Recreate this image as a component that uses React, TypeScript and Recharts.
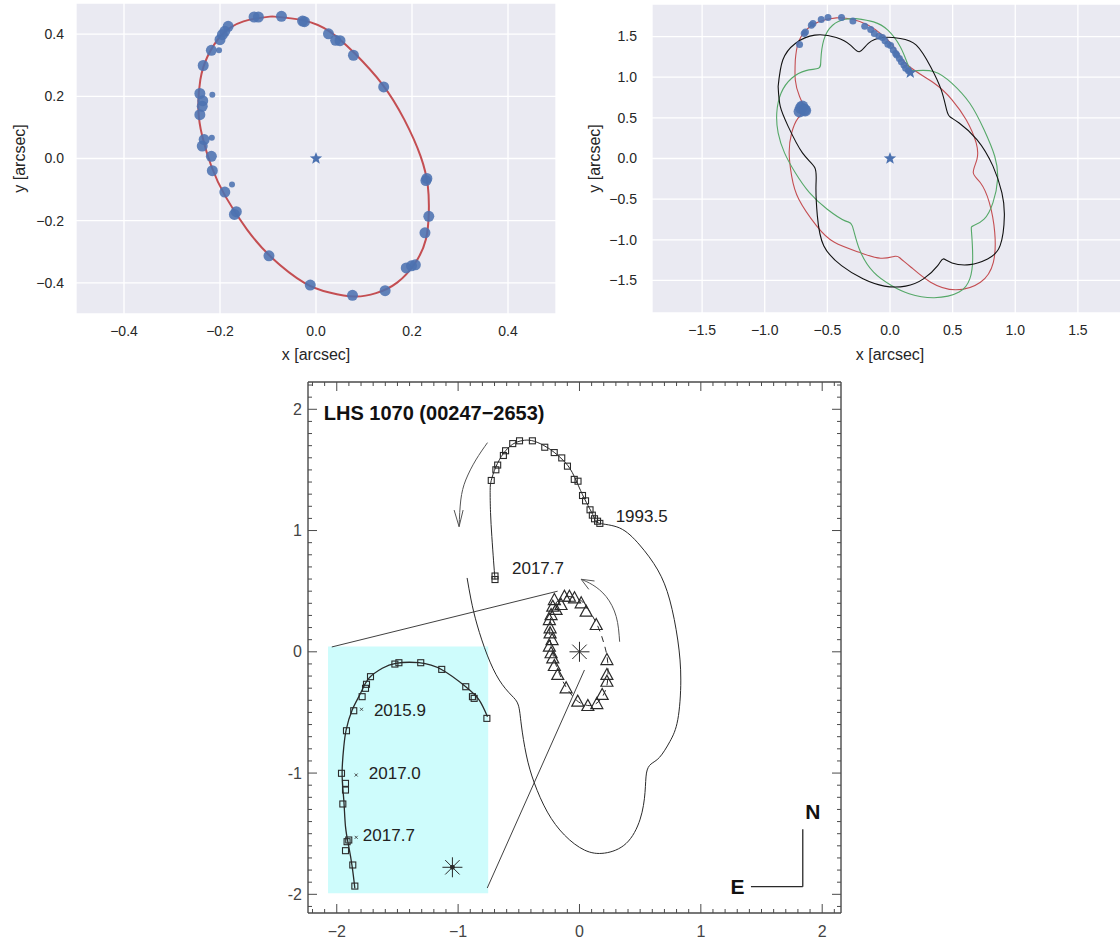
import {
  ComposedChart,
  Line,
  Scatter,
  XAxis,
  YAxis,
  CartesianGrid,
  ReferenceArea,
  ReferenceLine,
} from 'recharts'

const FONT = '"Liberation Sans", Arial, Helvetica, sans-serif'
const SNS_TEXT = '#262626'
const SNS_BG = '#EAEAF2'
const SNS_BLUE = '#4C72B0'
const SNS_RED = '#C44E52'
const SNS_GREEN = '#55A868'
const INK = '#2a2a2a'
const FRAME = '#4a4a4a'

// ---------- top-left: inner pair, relative orbit ----------
const innerTicks = [-0.4, -0.2, 0, 0.2, 0.4]

const innerOrbit = [
  { x: -0.092, y: 0.457 }, { x: -0.025, y: 0.444 }, { x: 0.028, y: 0.409 },
  { x: 0.08, y: 0.339 }, { x: 0.139, y: 0.237 }, { x: 0.184, y: 0.125 },
  { x: 0.218, y: 0.007 }, { x: 0.233, y: -0.089 }, { x: 0.235, y: -0.174 },
  { x: 0.229, y: -0.26 }, { x: 0.207, y: -0.335 }, { x: 0.169, y: -0.399 },
  { x: 0.125, y: -0.433 }, { x: 0.08, y: -0.444 }, { x: 0.028, y: -0.431 },
  { x: -0.025, y: -0.399 }, { x: -0.092, y: -0.319 }, { x: -0.144, y: -0.228 },
  { x: -0.189, y: -0.121 }, { x: -0.218, y: -0.025 }, { x: -0.237, y: 0.072 },
  { x: -0.245, y: 0.157 }, { x: -0.241, y: 0.253 }, { x: -0.226, y: 0.328 },
  { x: -0.196, y: 0.398 }, { x: -0.151, y: 0.441 }, { x: -0.092, y: 0.457 },
]

const innerObsBig = [
  { x: -0.129, y: 0.455 }, { x: -0.12, y: 0.455 }, { x: -0.072, y: 0.457 },
  { x: -0.028, y: 0.442 }, { x: -0.024, y: 0.44 }, { x: 0.026, y: 0.401 },
  { x: 0.041, y: 0.38 }, { x: 0.05, y: 0.379 }, { x: 0.078, y: 0.332 },
  { x: 0.141, y: 0.23 }, { x: 0.229, y: -0.071 }, { x: 0.231, y: -0.064 },
  { x: 0.235, y: -0.186 }, { x: 0.227, y: -0.239 }, { x: 0.188, y: -0.352 },
  { x: 0.199, y: -0.345 }, { x: 0.207, y: -0.342 }, { x: 0.144, y: -0.425 },
  { x: 0.076, y: -0.44 }, { x: -0.012, y: -0.407 }, { x: -0.098, y: -0.313 },
  { x: -0.17, y: -0.18 }, { x: -0.166, y: -0.171 }, { x: -0.19, y: -0.108 },
  { x: -0.216, y: -0.039 }, { x: -0.218, y: 0.007 }, { x: -0.237, y: 0.04 },
  { x: -0.233, y: 0.061 }, { x: -0.242, y: 0.141 }, { x: -0.237, y: 0.168 },
  { x: -0.236, y: 0.186 }, { x: -0.242, y: 0.209 }, { x: -0.235, y: 0.299 },
  { x: -0.218, y: 0.348 }, { x: -0.2, y: 0.382 }, { x: -0.195, y: 0.398 },
  { x: -0.19, y: 0.409 }, { x: -0.183, y: 0.425 },
]

const innerObsSmall = [
  { x: -0.175, y: -0.084 }, { x: -0.217, y: 0.067 },
  { x: -0.216, y: 0.205 }, { x: -0.202, y: 0.348 },
]

const innerStar = [{ x: 0, y: 0 }]

// ---------- top-right: outer pair, three trial orbits ----------
const outerTicks = [-1.5, -1, -0.5, 0, 0.5, 1, 1.5]

const outerRed = [
  { x: -0.756, y: 1.211 }, { x: -0.734, y: 1.415 }, { x: -0.671, y: 1.578 },
  { x: -0.572, y: 1.68 }, { x: -0.429, y: 1.729 }, { x: -0.301, y: 1.712 },
  { x: -0.173, y: 1.639 }, { x: -0.06, y: 1.517 }, { x: 0.04, y: 1.353 },
  { x: 0.139, y: 1.15 }, { x: 0.353, y: 0.925 }, { x: 0.495, y: 0.722 },
  { x: 0.608, y: 0.477 }, { x: 0.688, y: 0.192 }, { x: 0.694, y: -0.012 },
  { x: 0.665, y: -0.175 }, { x: 0.722, y: -0.298 }, { x: 0.793, y: -0.542 },
  { x: 0.836, y: -0.909 }, { x: 0.825, y: -1.276 }, { x: 0.722, y: -1.521 },
  { x: 0.523, y: -1.614 }, { x: 0.324, y: -1.521 }, { x: 0.168, y: -1.337 },
  { x: 0.082, y: -1.227 }, { x: 0.04, y: -1.203 }, { x: -0.074, y: -1.227 },
  { x: -0.245, y: -1.154 }, { x: -0.444, y: -1.031 }, { x: -0.586, y: -0.828 },
  { x: -0.728, y: -0.501 }, { x: -0.785, y: -0.216 }, { x: -0.805, y: 0.069 },
  { x: -0.785, y: 0.314 }, { x: -0.734, y: 0.497 }, { x: -0.685, y: 0.599 },
  { x: -0.722, y: 0.762 }, { x: -0.756, y: 0.966 }, { x: -0.756, y: 1.211 },
]

const outerGreen = [
  { x: -0.273, y: 1.72 }, { x: -0.131, y: 1.68 }, { x: -0.017, y: 1.578 },
  { x: 0.082, y: 1.374 }, { x: 0.139, y: 1.17 }, { x: 0.168, y: 1.089 },
  { x: 0.21, y: 1.08 }, { x: 0.353, y: 1.068 }, { x: 0.495, y: 0.925 },
  { x: 0.637, y: 0.68 }, { x: 0.751, y: 0.354 }, { x: 0.836, y: 0.028 },
  { x: 0.859, y: -0.257 }, { x: 0.822, y: -0.542 }, { x: 0.751, y: -0.746 },
  { x: 0.665, y: -0.828 }, { x: 0.651, y: -0.909 }, { x: 0.66, y: -1.235 },
  { x: 0.637, y: -1.48 }, { x: 0.552, y: -1.643 }, { x: 0.353, y: -1.712 },
  { x: 0.153, y: -1.663 }, { x: 0.011, y: -1.561 }, { x: -0.131, y: -1.398 },
  { x: -0.245, y: -1.113 }, { x: -0.301, y: -0.828 }, { x: -0.358, y: -0.767 },
  { x: -0.501, y: -0.624 }, { x: -0.643, y: -0.42 }, { x: -0.756, y: -0.175 },
  { x: -0.842, y: 0.069 }, { x: -0.893, y: 0.314 }, { x: -0.904, y: 0.559 },
  { x: -0.87, y: 0.803 }, { x: -0.785, y: 0.987 }, { x: -0.671, y: 1.081 },
  { x: -0.571, y: 1.109 }, { x: -0.552, y: 1.211 }, { x: -0.529, y: 1.456 },
  { x: -0.458, y: 1.639 }, { x: -0.358, y: 1.712 }, { x: -0.273, y: 1.72 },
]

const outerBlack = [
  { x: -0.893, y: 0.885 }, { x: -0.856, y: 1.211 }, { x: -0.756, y: 1.415 },
  { x: -0.6, y: 1.517 }, { x: -0.429, y: 1.488 }, { x: -0.316, y: 1.394 },
  { x: -0.245, y: 1.313 }, { x: -0.173, y: 1.415 }, { x: -0.06, y: 1.488 },
  { x: 0.082, y: 1.476 }, { x: 0.21, y: 1.394 }, { x: 0.324, y: 1.129 },
  { x: 0.409, y: 0.844 }, { x: 0.452, y: 0.599 }, { x: 0.481, y: 0.51 },
  { x: 0.552, y: 0.436 }, { x: 0.694, y: 0.232 }, { x: 0.822, y: -0.094 },
  { x: 0.893, y: -0.42 }, { x: 0.913, y: -0.705 }, { x: 0.879, y: -1.072 },
  { x: 0.779, y: -1.235 }, { x: 0.637, y: -1.305 }, { x: 0.495, y: -1.284 },
  { x: 0.424, y: -1.235 }, { x: 0.381, y: -1.317 }, { x: 0.267, y: -1.48 },
  { x: 0.125, y: -1.569 }, { x: -0.045, y: -1.569 }, { x: -0.216, y: -1.48 },
  { x: -0.387, y: -1.317 }, { x: -0.529, y: -1.072 }, { x: -0.58, y: -0.705 },
  { x: -0.591, y: -0.338 }, { x: -0.6, y: -0.114 }, { x: -0.699, y: 0.069 },
  { x: -0.813, y: 0.395 }, { x: -0.876, y: 0.64 }, { x: -0.893, y: 0.885 },
]

const outerObs = [
  { x: -0.722, y: 1.402 }, { x: -0.685, y: 1.537 }, { x: -0.675, y: 1.555 },
  { x: -0.628, y: 1.639 }, { x: -0.615, y: 1.66 }, { x: -0.549, y: 1.708 },
  { x: -0.495, y: 1.733 }, { x: -0.387, y: 1.733 }, { x: -0.296, y: 1.692 },
  { x: -0.202, y: 1.627 }, { x: -0.154, y: 1.586 }, { x: -0.125, y: 1.537 },
  { x: -0.088, y: 1.504 }, { x: -0.06, y: 1.488 }, { x: -0.04, y: 1.447 },
  { x: -0.017, y: 1.406 }, { x: 0.005, y: 1.39 }, { x: 0.026, y: 1.333 },
  { x: 0.045, y: 1.29 }, { x: 0.054, y: 1.272 }, { x: 0.075, y: 1.23 },
  { x: 0.091, y: 1.19 }, { x: 0.111, y: 1.15 }, { x: 0.125, y: 1.109 },
  { x: 0.148, y: 1.08 },
]

const outerObsBig = [
  { x: -0.722, y: 0.579 }, { x: -0.7, y: 0.64 }, { x: -0.685, y: 0.599 },
  { x: -0.711, y: 0.62 }, { x: -0.677, y: 0.591 },
]

const outerStars = [{ x: 0, y: 0 }, { x: 0.162, y: 1.056 }]

// ---------- bottom: published LHS 1070 figure ----------
const frameMajor = [-2, -1, 0, 1, 2]
const frameXLabels = ['−2', '−1', '0', '1', '2']
const frameYLabels = ['-2', '-1', '0', '1', '2']
// minor ticks every 0.1 arcsec
const frameTicksX = Array.from({ length: 44 }, (_, i) => (i - 22) / 10)
const frameTicksY = Array.from({ length: 44 }, (_, i) => (i - 21) / 10)

const outerTrack = [
  { x: -0.696, y: 0.596 }, { x: -0.708, y: 0.75 }, { x: -0.722, y: 0.95 },
  { x: -0.733, y: 1.15 }, { x: -0.736, y: 1.33 }, { x: -0.727, y: 1.413 },
  { x: -0.689, y: 1.525 }, { x: -0.627, y: 1.635 }, { x: -0.55, y: 1.712 },
  { x: -0.47, y: 1.742 }, { x: -0.394, y: 1.742 }, { x: -0.3, y: 1.705 },
  { x: -0.208, y: 1.645 }, { x: -0.13, y: 1.575 }, { x: -0.06, y: 1.48 },
  { x: 0.009, y: 1.33 }, { x: 0.071, y: 1.205 }, { x: 0.118, y: 1.112 },
  { x: 0.165, y: 1.06 }, { x: 0.331, y: 1.021 }, { x: 0.496, y: 0.881 },
  { x: 0.645, y: 0.675 }, { x: 0.744, y: 0.427 }, { x: 0.81, y: 0.097 },
  { x: 0.835, y: -0.233 }, { x: 0.81, y: -0.56 }, { x: 0.745, y: -0.74 },
  { x: 0.66, y: -0.87 }, { x: 0.59, y: -0.925 }, { x: 0.552, y: -1.0 },
  { x: 0.54, y: -1.16 }, { x: 0.5, y: -1.38 }, { x: 0.385, y: -1.58 },
  { x: 0.207, y: -1.66 }, { x: 0.041, y: -1.635 }, { x: -0.124, y: -1.511 },
  { x: -0.264, y: -1.322 }, { x: -0.372, y: -1.082 }, { x: -0.438, y: -0.851 },
  { x: -0.479, y: -0.604 }, { x: -0.504, y: -0.439 }, { x: -0.562, y: -0.357 },
  { x: -0.661, y: -0.233 }, { x: -0.76, y: -0.027 }, { x: -0.843, y: 0.221 },
  { x: -0.893, y: 0.427 }, { x: -0.926, y: 0.609 },
]

const outerSquares = [
  { x: -0.696, y: 0.625 }, { x: -0.696, y: 0.596 }, { x: -0.727, y: 1.413 },
  { x: -0.689, y: 1.501 }, { x: -0.674, y: 1.54 }, { x: -0.627, y: 1.619 },
  { x: -0.609, y: 1.658 }, { x: -0.55, y: 1.717 }, { x: -0.494, y: 1.74 },
  { x: -0.388, y: 1.74 }, { x: -0.286, y: 1.687 }, { x: -0.208, y: 1.643 },
  { x: -0.146, y: 1.599 }, { x: -0.099, y: 1.531 }, { x: -0.043, y: 1.422 },
  { x: -0.012, y: 1.407 }, { x: 0.025, y: 1.289 }, { x: 0.05, y: 1.245 },
  { x: 0.087, y: 1.171 }, { x: 0.106, y: 1.127 }, { x: 0.124, y: 1.097 },
  { x: 0.149, y: 1.077 }, { x: 0.168, y: 1.059 },
]

const innerTriangles = [
  { x: -0.124, y: 0.454 }, { x: -0.083, y: 0.454 }, { x: -0.041, y: 0.441 },
  { x: 0.014, y: 0.4 }, { x: 0.055, y: 0.331 }, { x: 0.138, y: 0.221 },
  { x: -0.207, y: 0.427 }, { x: -0.22, y: 0.372 }, { x: -0.234, y: 0.303 },
  { x: -0.248, y: 0.262 }, { x: -0.242, y: 0.194 }, { x: -0.242, y: 0.152 },
  { x: -0.248, y: 0.042 }, { x: -0.234, y: -0.012 }, { x: -0.22, y: -0.054 },
  { x: -0.207, y: -0.117 }, { x: -0.179, y: -0.191 }, { x: -0.11, y: -0.301 },
  { x: -0.014, y: -0.411 }, { x: 0.069, y: -0.447 }, { x: 0.143, y: -0.431 },
  { x: 0.187, y: -0.356 }, { x: 0.226, y: -0.247 }, { x: 0.226, y: -0.191 },
  { x: 0.226, y: -0.068 }, { x: -0.152, y: 0.386 }, { x: -0.193, y: 0.345 },
  { x: -0.226, y: 0.097 },
]

const insetTrack = [
  { x: -1.851, y: -1.951 }, { x: -1.873, y: -1.772 }, { x: -1.901, y: -1.607 },
  { x: -1.928, y: -1.442 }, { x: -1.942, y: -1.222 }, { x: -1.956, y: -1.002 },
  { x: -1.942, y: -0.783 }, { x: -1.923, y: -0.645 }, { x: -1.873, y: -0.48 },
  { x: -1.804, y: -0.342 }, { x: -1.736, y: -0.219 }, { x: -1.625, y: -0.136 },
  { x: -1.515, y: -0.095 }, { x: -1.322, y: -0.09 }, { x: -1.13, y: -0.15 },
  { x: -0.937, y: -0.288 }, { x: -0.826, y: -0.398 }, { x: -0.758, y: -0.535 },
]

const insetSquares = [
  { x: -1.851, y: -1.932 }, { x: -1.868, y: -1.758 }, { x: -1.928, y: -1.64 },
  { x: -1.915, y: -1.566 }, { x: -1.901, y: -1.552 }, { x: -1.95, y: -1.255 },
  { x: -1.928, y: -1.14 }, { x: -1.928, y: -1.085 }, { x: -1.961, y: -1.002 },
  { x: -1.92, y: -0.651 }, { x: -1.86, y: -0.486 }, { x: -1.791, y: -0.37 },
  { x: -1.763, y: -0.301 }, { x: -1.755, y: -0.268 }, { x: -1.722, y: -0.205 },
  { x: -1.521, y: -0.101 }, { x: -1.488, y: -0.09 }, { x: -1.308, y: -0.09 },
  { x: -1.135, y: -0.145 }, { x: -0.937, y: -0.288 }, { x: -0.882, y: -0.37 },
  { x: -0.868, y: -0.384 }, { x: -0.763, y: -0.549 },
]

const insetCrosses = [
  { x: -1.796, y: -0.474 }, { x: -1.84, y: -1.016 }, { x: -1.84, y: -1.53 },
]

const leftArrow = [
  { x: -0.758, y: 1.725 }, { x: -0.854, y: 1.582 }, { x: -0.937, y: 1.417 },
  { x: -0.978, y: 1.252 }, { x: -0.992, y: 1.032 },
]
const leftArrowHead = [
  { x: -1.033, y: 1.169 }, { x: -0.992, y: 1.032 }, { x: -0.959, y: 1.169 },
]
const rightArrow = [
  { x: 0.331, y: 0.083 }, { x: 0.303, y: 0.29 }, { x: 0.22, y: 0.455 },
  { x: 0.11, y: 0.551 }, { x: 0.014, y: 0.598 },
]
const rightArrowHead = [
  { x: 0.124, y: 0.584 }, { x: 0.014, y: 0.598 }, { x: 0.077, y: 0.515 },
]

const centralStars = [{ x: 0, y: 0 }]
const insetStars = [{ x: -1.047, y: -1.777 }]

const epochLabels = [
  { x: 0.298, y: 1.114, label: '1993.5' },
  { x: -0.556, y: 0.689, label: '2017.7' },
  { x: -1.694, y: -0.486, label: '2015.9' },
  { x: -1.736, y: -1.0, label: '2017.0' },
  { x: -1.785, y: -1.519, label: '2017.7' },
]
const boldLabels = [
  { x: -2.107, y: 1.967, label: 'LHS 1070 (00247−2653)', size: 20 },
  { x: 1.86, y: -1.319, label: 'N', size: 21 },
  { x: 1.245, y: -1.932, label: 'E', size: 21 },
]

// anchor point for the mirrored top/right frame axes
const frameAnchor = [{ x: 0, y: 0 }]

// ---------- marker shapes ----------
const disc = (r: number) => (p: any) => (
  <circle cx={p.cx} cy={p.cy} r={r} fill={SNS_BLUE} fillOpacity={0.88} />
)

const star = (R: number) => (p: any) => {
  let pts = ''
  for (let i = 0; i < 10; i++) {
    const a = -Math.PI / 2 + (i * Math.PI) / 5
    const rad = i % 2 === 0 ? R : R * 0.42
    pts += `${p.cx + rad * Math.cos(a)},${p.cy + rad * Math.sin(a)} `
  }
  return <polygon points={pts} fill={SNS_BLUE} />
}

const square = (p: any) => (
  <rect x={p.cx - 3} y={p.cy - 3} width={6} height={6} fill="none" stroke={INK} strokeWidth={1.1} />
)

const triangle = (p: any) => (
  <polygon
    points={`${p.cx},${p.cy - 6.5} ${p.cx - 6},${p.cy + 4.5} ${p.cx + 6},${p.cy + 4.5}`}
    fill="none"
    stroke={INK}
    strokeWidth={1.2}
  />
)

const cross = (p: any) => (
  <g stroke={INK} strokeWidth={0.8}>
    <line x1={p.cx - 1.5} y1={p.cy - 1.5} x2={p.cx + 1.5} y2={p.cy + 1.5} />
    <line x1={p.cx - 1.5} y1={p.cy + 1.5} x2={p.cx + 1.5} y2={p.cy - 1.5} />
  </g>
)

const asterisk = (R: number, dot: boolean) => (p: any) => (
  <g stroke={INK} strokeWidth={1}>
    <line x1={p.cx - R} y1={p.cy} x2={p.cx + R} y2={p.cy} />
    <line x1={p.cx} y1={p.cy - R} x2={p.cx} y2={p.cy + R} />
    <line x1={p.cx - R * 0.72} y1={p.cy - R * 0.72} x2={p.cx + R * 0.72} y2={p.cy + R * 0.72} />
    <line x1={p.cx - R * 0.72} y1={p.cy + R * 0.72} x2={p.cx + R * 0.72} y2={p.cy - R * 0.72} />
    {dot && <circle cx={p.cx} cy={p.cy} r={2} fill={INK} />}
  </g>
)

const nothing = () => <g />

const plainText = (p: any) => (
  <text x={p.cx} y={p.cy} dominantBaseline="central" fontSize={17} fontFamily={FONT} fill="#222">
    {p.payload.label}
  </text>
)

const boldText = (p: any) => (
  <text
    x={p.cx}
    y={p.cy}
    dominantBaseline="central"
    fontSize={p.payload.size}
    fontWeight="bold"
    fontFamily={FONT}
    fill="#111"
  >
    {p.payload.label}
  </text>
)

// tick label with a real minus sign, seaborn style
const snsFmt = (v: number) => (v < 0 ? '−' : '') + Math.abs(v).toFixed(1)

// ---------- framed (IDL-like) axis ticks ----------
const isMajor = (v: number) => Math.abs(v - Math.round(v)) < 1e-6
const labelOf = (v: number, labels: string[]) => labels[frameMajor.indexOf(Math.round(v))]

const BottomTick = (p: any) => {
  const major = isMajor(p.payload.value)
  return (
    <g>
      <line x1={p.x} x2={p.x} y1={p.y} y2={p.y - (major ? 9 : 4)} stroke={FRAME} />
      {major && (
        <text x={p.x} y={p.y + 24} textAnchor="middle" fontSize={16} fontFamily={FONT} fill="#444">
          {labelOf(p.payload.value, frameXLabels)}
        </text>
      )}
    </g>
  )
}
const TopTick = (p: any) => {
  const major = isMajor(p.payload.value)
  return <line x1={p.x} x2={p.x} y1={p.y} y2={p.y + (major ? 9 : 4)} stroke={FRAME} />
}
const LeftTick = (p: any) => {
  const major = isMajor(p.payload.value)
  return (
    <g>
      <line x1={p.x} x2={p.x + (major ? 9 : 4)} y1={p.y} y2={p.y} stroke={FRAME} />
      {major && (
        <text x={p.x - 6} y={p.y} dy="0.35em" textAnchor="end" fontSize={16} fontFamily={FONT} fill="#444">
          {labelOf(p.payload.value, frameYLabels)}
        </text>
      )}
    </g>
  )
}
const RightTick = (p: any) => {
  const major = isMajor(p.payload.value)
  return <line x1={p.x} x2={p.x - (major ? 9 : 4)} y1={p.y} y2={p.y} stroke={FRAME} />
}

const snsTick = { fill: SNS_TEXT, fontSize: 14, fontFamily: FONT }
const snsLabel = { fill: SNS_TEXT, fontSize: 16, fontFamily: FONT }
const frameLine = { stroke: FRAME, strokeWidth: 1.4 }

export default function App() {
  return (
    <div style={{ position: 'absolute', left: 0, top: 0, width: 1120, height: 943, overflow: 'hidden', background: '#fff' }}>
      {/* inner pair orbit fit */}
      <div style={{ position: 'absolute', left: 0, top: 0 }}>
        <ComposedChart width={560} height={370} margin={{ top: 3, right: 4, bottom: 0, left: 0 }}>
          <CartesianGrid fill={SNS_BG} stroke="#fff" strokeWidth={1.3} />
          <XAxis
            type="number"
            dataKey="x"
            domain={[-0.5, 0.5]}
            ticks={innerTicks}
            interval={0}
            tickFormatter={snsFmt}
            axisLine={false}
            tickLine={false}
            tickSize={0}
            tickMargin={12}
            height={56}
            tick={snsTick}
            allowDataOverflow
            label={{ value: 'x [arcsec]', position: 'insideBottom', offset: 10, style: snsLabel }}
          />
          <YAxis
            type="number"
            dataKey="y"
            domain={[-0.5, 0.5]}
            ticks={innerTicks}
            interval={0}
            tickFormatter={snsFmt}
            axisLine={false}
            tickLine={false}
            tickSize={0}
            tickMargin={12}
            width={76}
            tick={snsTick}
            allowDataOverflow
            label={{ value: 'y [arcsec]', angle: -90, position: 'insideLeft', offset: 19, style: { ...snsLabel, textAnchor: 'middle' } }}
          />
          <Line data={innerOrbit} dataKey="y" type="natural" dot={false} activeDot={false} stroke={SNS_RED} strokeWidth={2} isAnimationActive={false} />
          <Scatter data={innerObsBig} shape={disc(5.5)} isAnimationActive={false} />
          <Scatter data={innerObsSmall} shape={disc(3)} isAnimationActive={false} />
          <Scatter data={innerStar} shape={star(6.5)} isAnimationActive={false} />
        </ComposedChart>
      </div>

      {/* outer pair trial orbits */}
      <div style={{ position: 'absolute', left: 560, top: 0 }}>
        <ComposedChart width={570} height={370} margin={{ top: 4, right: 2, bottom: 0, left: 0 }}>
          <CartesianGrid fill={SNS_BG} stroke="#fff" strokeWidth={1.3} />
          <XAxis
            type="number"
            dataKey="x"
            domain={[-1.9, 1.9]}
            ticks={outerTicks}
            interval={0}
            tickFormatter={snsFmt}
            axisLine={false}
            tickLine={false}
            tickSize={0}
            tickMargin={12}
            height={57}
            tick={snsTick}
            allowDataOverflow
            label={{ value: 'x [arcsec]', position: 'insideBottom', offset: 10, style: snsLabel }}
          />
          <YAxis
            type="number"
            dataKey="y"
            domain={[-1.9, 1.9]}
            ticks={outerTicks}
            interval={0}
            tickFormatter={snsFmt}
            axisLine={false}
            tickLine={false}
            tickSize={0}
            tickMargin={15}
            width={92}
            tick={snsTick}
            allowDataOverflow
            label={{ value: 'y [arcsec]', angle: -90, position: 'insideLeft', offset: 34, style: { ...snsLabel, textAnchor: 'middle' } }}
          />
          <Line data={outerRed} dataKey="y" type="natural" dot={false} activeDot={false} stroke={SNS_RED} strokeWidth={1.1} isAnimationActive={false} />
          <Line data={outerGreen} dataKey="y" type="natural" dot={false} activeDot={false} stroke={SNS_GREEN} strokeWidth={1.1} isAnimationActive={false} />
          <Line data={outerBlack} dataKey="y" type="natural" dot={false} activeDot={false} stroke="#111" strokeWidth={1.1} isAnimationActive={false} />
          <Scatter data={outerObs} shape={disc(3.5)} isAnimationActive={false} />
          <Scatter data={outerObsBig} shape={disc(6)} isAnimationActive={false} />
          <Scatter data={outerStars} shape={star(6.5)} isAnimationActive={false} />
        </ComposedChart>
      </div>

      {/* published figure of the quadruple */}
      <div style={{ position: 'absolute', left: 250, top: 372 }}>
        <ComposedChart width={593} height={571} margin={{ top: 9, right: 1, bottom: 0, left: 0 }}>
          <XAxis
            type="number"
            dataKey="x"
            domain={[-2.237, 2.155]}
            ticks={frameTicksX}
            interval={0}
            tick={BottomTick}
            tickLine={false}
            tickSize={0}
            tickMargin={0}
            axisLine={frameLine}
            height={30}
            allowDataOverflow
          />
          <XAxis
            xAxisId="top"
            orientation="top"
            type="number"
            dataKey="x"
            domain={[-2.237, 2.155]}
            ticks={frameTicksX}
            interval={0}
            tick={TopTick}
            tickLine={false}
            tickSize={0}
            tickMargin={0}
            axisLine={frameLine}
            height={1}
            allowDataOverflow
          />
          <YAxis
            type="number"
            dataKey="y"
            domain={[-2.154, 2.225]}
            ticks={frameTicksY}
            interval={0}
            tick={LeftTick}
            tickLine={false}
            tickSize={0}
            tickMargin={0}
            axisLine={frameLine}
            width={58}
            allowDataOverflow
          />
          <YAxis
            yAxisId="right"
            orientation="right"
            type="number"
            dataKey="y"
            domain={[-2.154, 2.225]}
            ticks={frameTicksY}
            interval={0}
            tick={RightTick}
            tickLine={false}
            tickSize={0}
            tickMargin={0}
            axisLine={frameLine}
            width={1}
            allowDataOverflow
          />

          <ReferenceArea x1={-2.072} x2={-0.752} y1={-1.992} y2={0.044} fill="#cefcfc" fillOpacity={1} stroke="none" />

          <ReferenceLine segment={[{ x: -2.041, y: 0.04 }, { x: -0.18, y: 0.5 }]} stroke={INK} strokeWidth={0.9} />
          <ReferenceLine segment={[{ x: -0.76, y: -1.948 }, { x: 0.041, y: -0.15 }]} stroke={INK} strokeWidth={0.9} />
          <ReferenceLine segment={[{ x: 1.84, y: -1.464 }, { x: 1.84, y: -1.937 }]} stroke={INK} strokeWidth={1.3} />
          <ReferenceLine segment={[{ x: 1.413, y: -1.937 }, { x: 1.84, y: -1.937 }]} stroke={INK} strokeWidth={1.3} />

          <Line data={outerTrack} dataKey="y" type="natural" dot={false} activeDot={false} stroke={INK} strokeWidth={1} isAnimationActive={false} />
          <Line data={innerOrbit} dataKey="y" type="natural" dot={false} activeDot={false} stroke={INK} strokeWidth={1} strokeDasharray="6 5" isAnimationActive={false} />
          <Line data={insetTrack} dataKey="y" type="natural" dot={false} activeDot={false} stroke={INK} strokeWidth={1.3} isAnimationActive={false} />
          <Line data={leftArrow} dataKey="y" type="natural" dot={false} activeDot={false} stroke="#555" strokeWidth={1} isAnimationActive={false} />
          <Line data={leftArrowHead} dataKey="y" type="linear" dot={false} activeDot={false} stroke="#555" strokeWidth={1} isAnimationActive={false} />
          <Line data={rightArrow} dataKey="y" type="natural" dot={false} activeDot={false} stroke="#555" strokeWidth={1} isAnimationActive={false} />
          <Line data={rightArrowHead} dataKey="y" type="linear" dot={false} activeDot={false} stroke="#555" strokeWidth={1} isAnimationActive={false} />

          <Scatter data={outerSquares} shape={square} isAnimationActive={false} />
          <Scatter data={insetSquares} shape={square} isAnimationActive={false} />
          <Scatter data={insetCrosses} shape={cross} isAnimationActive={false} />
          <Scatter data={innerTriangles} shape={triangle} isAnimationActive={false} />
          <Scatter data={centralStars} shape={asterisk(10, false)} isAnimationActive={false} />
          <Scatter data={insetStars} shape={asterisk(10, true)} isAnimationActive={false} />
          <Scatter data={epochLabels} shape={plainText} isAnimationActive={false} />
          <Scatter data={boldLabels} shape={boldText} isAnimationActive={false} />
          <Scatter xAxisId="top" yAxisId="right" data={frameAnchor} shape={nothing} isAnimationActive={false} />
        </ComposedChart>
      </div>
    </div>
  )
}
